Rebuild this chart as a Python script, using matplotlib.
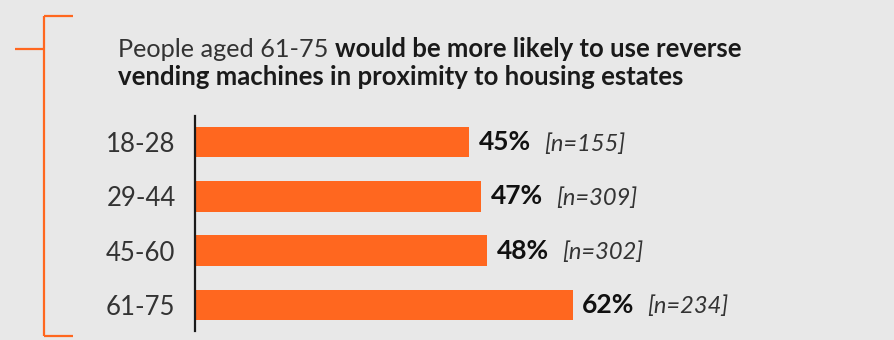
import matplotlib.pyplot as plt
from matplotlib.lines import Line2D

ages = ['18-28', '29-44', '45-60', '61-75']
shares = [45, 47, 48, 62]
counts = [155, 309, 302, 234]

orange = '#FF671F'
bg = '#E8E8E8'
W, H = 894, 340

plt.rcParams['font.family'] = ['Lato', 'DejaVu Sans']

fig = plt.figure(figsize=(W / 100, H / 100), dpi=100, facecolor=bg)


def fx(px):
    return px / W


def fy(py):
    return 1 - py / H


# bracket on the left
for xs, ys in [([44, 44], [16, 336]), ([44, 73], [16, 16]),
               ([15, 44], [49, 49]), ([44, 73], [336, 336])]:
    fig.add_artist(Line2D([fx(x) for x in xs], [fy(y) for y in ys],
                          color=orange, lw=1.6, solid_capstyle='butt'))

# title, mixed weights
t1 = fig.text(fx(118), fy(57), 'People aged 61-75 ', fontsize=18.2,
              color='#333333', va='baseline')
fig.canvas.draw()
bb = t1.get_window_extent()
fig.text(bb.x1 / W, fy(57), 'would be more likely to use reverse', fontsize=18.5,
         fontweight='bold', color='#1a1a1a', va='baseline')
fig.text(fx(118), fy(85), 'vending machines in proximity to housing estates',
         fontsize=18.5, fontweight='bold', color='#1a1a1a', va='baseline')

ax = fig.add_axes([fx(195), (H - 331) / H, 609 / W, 215 / H])
ax.set_facecolor(bg)
pos = list(range(len(ages)))
ax.barh(pos, shares, height=0.556, color=orange)
ax.set_xlim(0, 100)
ax.set_ylim(3.49, -0.49)
ax.set_yticks(pos)
ax.set_yticklabels(ages, fontsize=18.5, color='#333333')
ax.tick_params(axis='y', length=0, pad=14)
ax.set_xticks([])
for s in ['top', 'right', 'bottom']:
    ax.spines[s].set_visible(False)
ax.spines['left'].set_linewidth(1.6)
ax.spines['left'].set_color('#1a1a1a')

for i, (v, n) in enumerate(zip(shares, counts)):
    ax.annotate(f'{v}%', (v, i), xytext=(7, 0), textcoords='offset points',
                fontsize=19, fontweight='bold', color='#111111',
                va='center')
    ax.annotate(f'[n={n}]', (v, i), xytext=(54, -1), textcoords='offset points',
                fontsize=17, fontstyle='italic', color='#333333',
                va='center')

fig.savefig('out.png', dpi=100, facecolor=bg)
